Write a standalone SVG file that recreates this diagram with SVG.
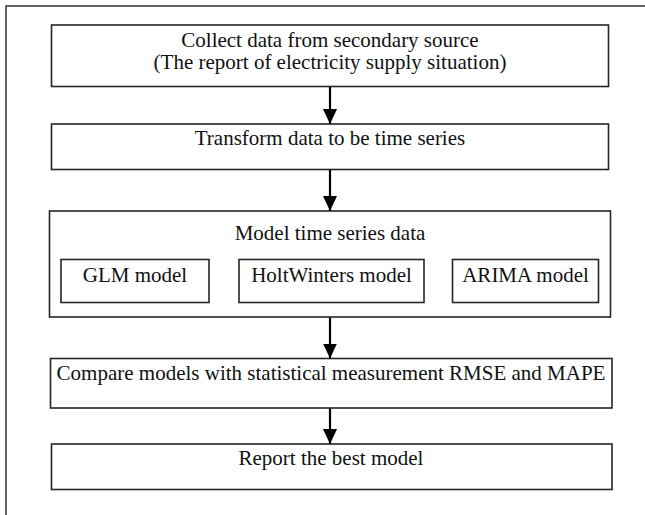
<svg xmlns="http://www.w3.org/2000/svg" width="645" height="515" viewBox="0 0 645 515">
<style>
.box{fill:#fff;stroke:#262626;stroke-width:1.6}
.t{font-family:"Liberation Serif","Times New Roman",serif;font-size:21px;fill:#111;text-anchor:middle}
.conn{stroke:#000;stroke-width:2.2;fill:none}
</style>
<defs>
<marker id="ah" markerUnits="userSpaceOnUse" markerWidth="16" markerHeight="14" refX="15" refY="7" orient="auto">
<path d="M0,0 L15,7 L0,14 Z" fill="#000"/>
</marker>
</defs>
<rect x="0" y="0" width="645" height="515" fill="#fff"/>
<rect x="6" y="6" width="650" height="520" fill="none" stroke="#111" stroke-width="1.3"/>
<g id="n1">
<rect class="box" x="51.5" y="25" width="557" height="61.5"/>
<text class="t" x="330" y="47">Collect data from secondary source</text>
<text class="t" x="330" y="69">(The report of electricity supply situation)</text>
</g>
<g id="n2">
<rect class="box" x="51.5" y="124" width="557" height="45.5"/>
<text class="t" x="330" y="145">Transform data to be time series</text>
</g>
<g id="n3">
<rect class="box" x="49.5" y="211" width="561" height="106"/>
<text class="t" x="330" y="240">Model time series data</text>
</g>
<g id="n3a">
<rect class="box" x="61" y="259.5" width="148" height="43" stroke-width="1.2"/>
<text class="t" x="135" y="282">GLM model</text>
</g>
<g id="n3b">
<rect class="box" x="239" y="259.5" width="185" height="43" stroke-width="1.2"/>
<text class="t" x="331.5" y="282">HoltWinters model</text>
</g>
<g id="n3c">
<rect class="box" x="452.5" y="259.5" width="146" height="43" stroke-width="1.2"/>
<text class="t" x="525.5" y="282">ARIMA model</text>
</g>
<g id="n4">
<rect class="box" x="50.5" y="358.5" width="561.5" height="49.5"/>
<text class="t" x="331" y="380">Compare models with statistical measurement RMSE and MAPE</text>
</g>
<g id="n5">
<rect class="box" x="51.5" y="444" width="560.5" height="45.5"/>
<text class="t" x="331" y="465">Report the best model</text>
</g>
<g id="connectors">
<line class="conn" x1="330" y1="87" x2="330" y2="124" marker-end="url(#ah)"/>
<line class="conn" x1="330" y1="170" x2="330" y2="211" marker-end="url(#ah)"/>
<line class="conn" x1="330" y1="317.5" x2="330" y2="358.5" marker-end="url(#ah)"/>
<line class="conn" x1="330" y1="408.5" x2="330" y2="444" marker-end="url(#ah)"/>
</g>
</svg>
